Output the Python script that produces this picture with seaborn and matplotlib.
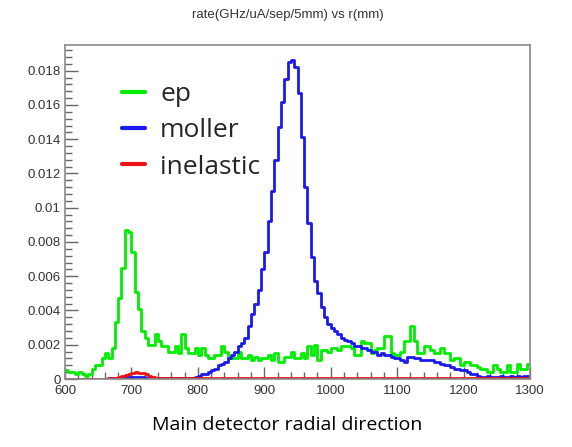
import numpy as np
import pandas as pd
import matplotlib
matplotlib.use("Agg")
import matplotlib.pyplot as plt
import seaborn as sns
from matplotlib.ticker import MultipleLocator, FixedLocator, FixedFormatter

# ---------------- data (rate per 5 mm bin, bins start at 600 mm) ----------------
bin_edges = list(range(600, 1305, 5))

ep = [
    0.0005, 0.0004, 0.0004, 0.0003, 0.0004, 0.0003, 0.0002, 0.0003, 0.0006, 0.0008,
    0.0008, 0.0012, 0.0015, 0.0012, 0.0018, 0.0033, 0.0047, 0.0065, 0.0087, 0.0086,
    0.0074, 0.0051, 0.0041, 0.0028, 0.0024, 0.0020, 0.0020, 0.0026, 0.0022, 0.0019,
    0.0019, 0.0016, 0.0016, 0.0019, 0.0015, 0.0026, 0.0018, 0.0015, 0.0015, 0.0018,
    0.0014, 0.0018, 0.0014, 0.0012, 0.0012, 0.0014, 0.0014, 0.0019, 0.0016, 0.0012,
    0.0012, 0.0012, 0.0016, 0.0012, 0.0012, 0.0014, 0.0011, 0.0013, 0.0011, 0.0012,
    0.0012, 0.0014, 0.0011, 0.0015, 0.0010, 0.0010, 0.0013, 0.0013, 0.0016, 0.0012,
    0.0012, 0.0015, 0.0012, 0.0019, 0.0014, 0.0020, 0.0011, 0.0017, 0.0017, 0.0016,
    0.0018, 0.0018, 0.0017, 0.0019, 0.0019, 0.0019, 0.0018, 0.0014, 0.0014, 0.0022,
    0.0021, 0.0021, 0.0015, 0.0017, 0.0018, 0.0018, 0.0025, 0.0025, 0.0015, 0.0014,
    0.0014, 0.0016, 0.0022, 0.0022, 0.0031, 0.0022, 0.0015, 0.0015, 0.0019, 0.0019,
    0.0017, 0.0015, 0.0015, 0.0018, 0.0015, 0.0015, 0.0011, 0.0012, 0.0012, 0.0008,
    0.0010, 0.0010, 0.0008, 0.0008, 0.0007, 0.0006, 0.0006, 0.0004, 0.0004, 0.0008,
    0.0006, 0.0004, 0.0004, 0.0008, 0.0004, 0.0004, 0.0009, 0.0006, 0.0006, 0.0009,
]

moller = [
    0.00002, 0.00002, 0.00002, 0.00002, 0.00002, 0.00002, 0.00002, 0.00002, 0.00002, 0.00002,
    0.00002, 0.00002, 0.00002, 0.00003, 0.00004, 0.00005, 0.00006, 0.00008, 0.0001, 0.0001,
    0.0001, 0.0001, 0.0001, 0.0001, 0.00008, 0.00008, 0.00006, 0.00005, 0.00004, 0.00004,
    0.00003, 0.00003, 0.00003, 0.00003, 0.00004, 0.00004, 0.00005, 0.00005, 0.00006, 0.0001,
    0.0002, 0.0003, 0.0003, 0.0004, 0.0005, 0.0006, 0.0008, 0.0009, 0.0010, 0.0012,
    0.0014, 0.0016, 0.0019, 0.0021, 0.0024, 0.0031, 0.0038, 0.0044, 0.0052, 0.0064,
    0.0074, 0.0092, 0.0110, 0.0128, 0.0147, 0.0162, 0.0175, 0.0185, 0.0186, 0.0182,
    0.0167, 0.0141, 0.0112, 0.0091, 0.0071, 0.0057, 0.0050, 0.0042, 0.0036, 0.0032,
    0.0030, 0.0028, 0.0026, 0.0024, 0.0023, 0.0022, 0.0021, 0.0019, 0.0019, 0.0018,
    0.0018, 0.0017, 0.0016, 0.0016, 0.0014, 0.0015, 0.0014, 0.0014, 0.0013, 0.0012,
    0.0012, 0.0011, 0.0010, 0.0013, 0.0013, 0.0012, 0.0012, 0.0011, 0.0011, 0.0011,
    0.0011, 0.0010, 0.0010, 0.0009, 0.0008, 0.0008, 0.0007, 0.0006, 0.0006, 0.0005,
    0.0005, 0.0004, 0.0003, 0.0003, 0.0002, 0.0001, 0.0001, 0.0002, 0.0001, 0.0001,
    0.0001, 0.0002, 0.0001, 0.0001, 0.0002, 0.0001, 0.0002, 0.0001, 0.0002, 0.0002,
]

inelastic = (
    [0.00002] * 10
    + [0.00002, 0.00002, 0.00002, 0.00003, 0.00004, 0.00006, 0.0001, 0.00018, 0.00026, 0.00032]
    + [0.00036, 0.00038, 0.00037, 0.00033, 0.00027, 0.0002, 0.00013, 0.00008, 0.00005, 0.00004]
    + [0.00003] * 110
)

series_names = ["ep", "moller", "inelastic"]
series_colors = ["#00ee00", "#1a1aee", "#ee1111"]
x_ticks = [600, 700, 800, 900, 1000, 1100, 1200, 1300]
y_ticks = [0, 0.002, 0.004, 0.006, 0.008, 0.01, 0.012, 0.014, 0.016, 0.018]
y_tick_labels = ["0", "0.002", "0.004", "0.006", "0.008", "0.01", "0.012",
                 "0.014", "0.016", "0.018"]

# ---------------- figure ----------------
sns.set_style("white")
plt.rcParams["font.family"] = ["Liberation Sans", "DejaVu Sans"]

fig = plt.figure(figsize=(5.72, 4.47), dpi=100)
ax = fig.add_axes([65 / 572, 68 / 447, 465 / 572, 334 / 447])

centers = [e + 2.5 for e in bin_edges[:-1]]
for name, vals, color in zip(series_names, [ep, moller, inelastic], series_colors):
    df = pd.DataFrame({"r": centers, "rate": vals})
    sns.histplot(data=df, x="r", weights="rate", bins=bin_edges, element="step",
                 fill=False, color=color, linewidth=2.0, ax=ax, label=name)

ax.set_xlim(600, 1300)
ax.set_ylim(0, 0.0195)
ax.set_xlabel("")
ax.set_ylabel("")

ax.xaxis.set_major_locator(FixedLocator(x_ticks))
ax.xaxis.set_minor_locator(MultipleLocator(20))
ax.yaxis.set_major_locator(FixedLocator(y_ticks))
ax.yaxis.set_major_formatter(FixedFormatter(y_tick_labels))
ax.yaxis.set_minor_locator(MultipleLocator(0.0004))

ax.tick_params(which="major", direction="in", length=9, width=1.0, color="#666666",
               labelsize=9.5, labelcolor="#333333", pad=3)
ax.tick_params(which="minor", direction="in", length=5, width=1.0, color="#666666")
ax.tick_params(axis="x", which="both", bottom=True, top=False, pad=4)
ax.tick_params(axis="y", which="both", left=True, right=False)

for sp in ax.spines.values():
    sp.set_color("#8a8a8a")
    sp.set_linewidth(1.2)

leg = ax.legend(loc="upper left", bbox_to_anchor=(0.1226, 0.888), frameon=False,
                prop={"family": "Open Sans", "size": 19}, handlelength=0.87,
                handletextpad=0.57, labelspacing=0.42, borderpad=0, borderaxespad=0)
for line in leg.get_lines():
    line.set_linewidth(3.0)

fig.text(288 / 572, 1 - 15 / 447, "rate(GHz/uA/sep/5mm) vs r(mm)", ha="center",
         va="center", fontsize=9.5, color="#333333", family="Liberation Sans")
fig.text(287 / 572, 1 - 425 / 447, "Main detector radial direction", ha="center",
         va="center", fontsize=14, color="black", family="Open Sans")

fig.savefig("out.png", dpi=100)
